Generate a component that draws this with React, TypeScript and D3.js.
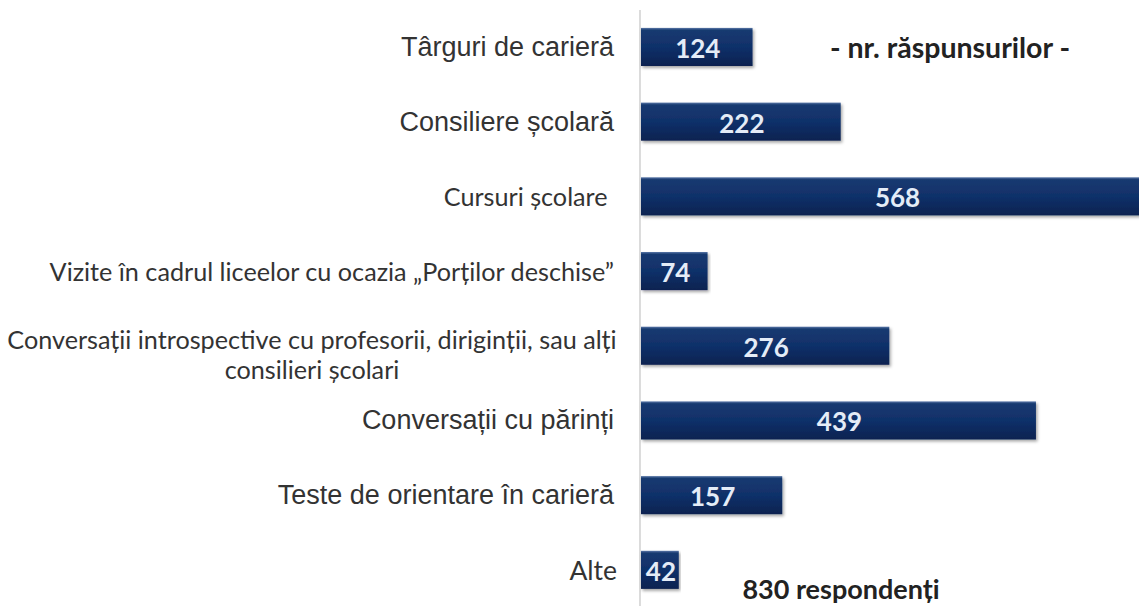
import React from "react";
import * as d3 from "d3";

const categories = [
  "Târguri de carieră",
  "Consiliere școlară",
  "Cursuri școlare ",
  "Vizite în cadrul liceelor cu ocazia „Porților deschise”",
  "Conversații introspective cu profesorii, diriginții, sau alți|consilieri școlari",
  "Conversații cu părinți",
  "Teste de orientare în carieră",
  "Alte",
];
const values = [124, 222, 568, 74, 276, 439, 157, 42];
const labelFonts = ["arial", "arial", "calibri", "calibri", "calibri", "arial", "arial", "calibri"];
const unitTitle = "- nr. răspunsurilor -";
const footnote = "830 respondenți";

const W = 1139;
const H = 606;

export default function App() {
  const x = d3.scaleLinear().domain([0, 568]).range([641, 641 + 511]);
  const y = d3
    .scaleBand<number>()
    .domain(d3.range(categories.length))
    .range([9.6, 607.2])
    .paddingInner(0.49)
    .paddingOuter(0.245);

  const bw = y.bandwidth();
  const calibri = "Lato, 'Open Sans', sans-serif";
  const arial = "'Liberation Sans', Arial, sans-serif";

  return (
    <svg
      width={W}
      height={H}
      style={{ position: "absolute", left: 0, top: 0, background: "#fff" }}
    >
      <defs>
        <linearGradient id="barGrad" x1="0" y1="0" x2="0" y2="1">
          <stop offset="0" stopColor="#5a78a8" />
          <stop offset="0.06" stopColor="#183a70" />
          <stop offset="0.5" stopColor="#10306a" />
          <stop offset="1" stopColor="#0a2350" />
        </linearGradient>
        <filter id="shadow" x="-5%" y="-20%" width="110%" height="160%">
          <feDropShadow dx="1.5" dy="2" stdDeviation="1.5" floodColor="#000" floodOpacity="0.35" />
        </filter>
        <clipPath id="clip">
          <rect x={0} y={0} width={W} height={H} />
        </clipPath>
      </defs>

      <line x1={640} x2={640} y1={10} y2={H} stroke="#c4c4c4" strokeWidth={1.2} />

      <g clipPath="url(#clip)">
        {values.map((v, i) => {
          const y0 = y(i)!;
          return (
            <g key={i}>
              <rect
                x={x(0)}
                y={y0}
                width={x(v) - x(0)}
                height={bw}
                fill="url(#barGrad)"
                filter="url(#shadow)"
              />
              <text
                x={(x(0) + x(v)) / 2 + 1}
                y={y0 + bw / 2 + 1}
                textAnchor="middle"
                dominantBaseline="central"
                fill="#e4ecf7"
                fontFamily={calibri}
                fontWeight={700}
                fontSize={26}
              >
                {v}
              </text>
            </g>
          );
        })}
      </g>

      {categories.map((c, i) => {
        const cy = y(i)! + bw / 2;
        const isArial = labelFonts[i] === "arial";
        const family = isArial ? arial : calibri;
        const size = isArial ? 27 : 25.2;
        const parts = c.split("|");
        if (parts.length > 1) {
          return (
            <g key={i} fill="#333" fontFamily={family} fontSize={size}>
              <text x={312} y={cy - 7} textAnchor="middle" dominantBaseline="central">
                {parts[0]}
              </text>
              <text x={312} y={cy + 23} textAnchor="middle" dominantBaseline="central">
                {parts[1]}
              </text>
            </g>
          );
        }
        const isLast = i === categories.length - 1;
        return (
          <text
            key={i}
            x={isLast ? 617 : 614}
            y={cy}
            textAnchor="end"
            dominantBaseline="central"
            fill="#333"
            fontFamily={family}
            fontSize={isLast ? 26.5 : size}
            style={{ whiteSpace: "pre" }}
          >
            {c}
          </text>
        );
      })}

      <text
        x={950}
        y={y(0)! + bw / 2}
        textAnchor="middle"
        dominantBaseline="central"
        fill="#222"
        fontFamily={calibri}
        fontWeight={700}
        fontSize={28.5}
      >
        {unitTitle}
      </text>
      <text
        x={841}
        y={588}
        textAnchor="middle"
        dominantBaseline="central"
        fill="#222"
        fontFamily={calibri}
        fontWeight={700}
        fontSize={27}
      >
        {footnote}
      </text>
    </svg>
  );
}
